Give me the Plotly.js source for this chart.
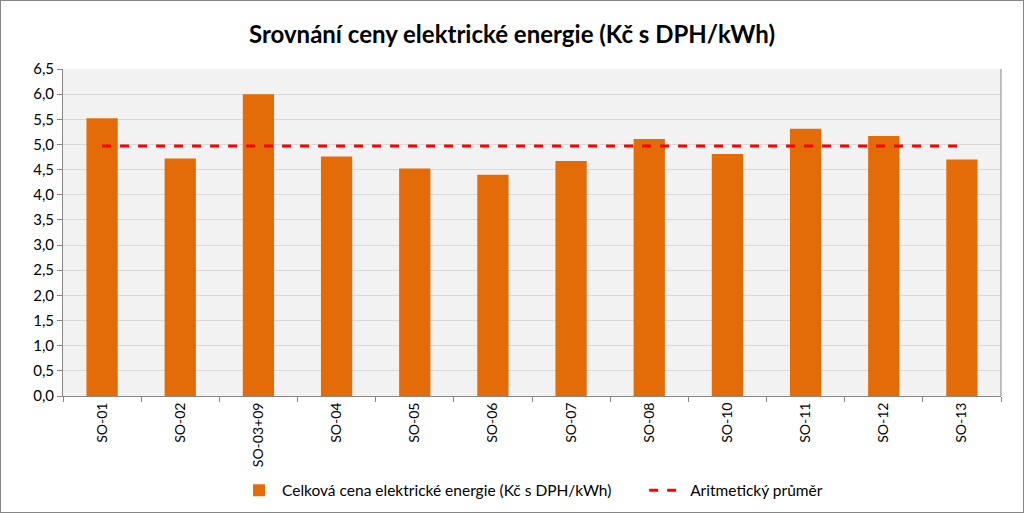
<!DOCTYPE html>
<html>
<head>
<meta charset="utf-8">
<script src="https://cdn.plot.ly/plotly-3.0.1.min.js"></script>
<style>
html,body{margin:0;padding:0;background:#fff;}
#chart{width:1024px;height:513px;box-sizing:border-box;border:1px solid #868686;}
</style>
</head>
<body>
<div id="chart"></div>
<script>
const categories = ["SO-01","SO-02","SO-03+09","SO-04","SO-05","SO-06","SO-07","SO-08","SO-10","SO-11","SO-12","SO-13"];
const priceValues = [5.52,4.72,6.00,4.76,4.52,4.40,4.67,5.11,4.81,5.31,5.17,4.70];
const averageValues = [4.97,4.97,4.97,4.97,4.97,4.97,4.97,4.97,4.97,4.97,4.97,4.97];
const yTickVals = [0,0.5,1,1.5,2,2.5,3,3.5,4,4.5,5,5.5,6,6.5];
const yTickText = ["0,0","0,5","1,0","1,5","2,0","2,5","3,0","3,5","4,0","4,5","5,0","5,5","6,0","6,5"];
const seriesNames = ["Celková cena elektrické energie (Kč s DPH/kWh)","Aritmetický průměr"];
const chartTitle = "Srovnání ceny elektrické energie (Kč s DPH/kWh)";

const font = "Lato, 'Open Sans', sans-serif";
const pad = "\u00a0\u00a0\u00a0\u00a0\u00a0\u00a0\u00a0";

const traces = [
  {
    type: "bar",
    x: categories,
    y: priceValues,
    name: seriesNames[0] + pad,
    marker: {color: "#e36c09"},
    hoverinfo: "x+y"
  },
  {
    type: "scatter",
    mode: "lines",
    x: categories,
    y: averageValues,
    name: seriesNames[1],
    line: {color: "#ff0000", width: 3, dash: "dash"}
  }
];

const layout = {
  width: 1022,
  height: 511,
  margin: {l: 62, r: 22, t: 68, b: 116},
  paper_bgcolor: "#ffffff",
  plot_bgcolor: "#f2f2f2",
  title: {
    text: "<b>" + chartTitle + "</b>",
    font: {family: font, size: 24, color: "#000000"},
    x: 0.5, xanchor: "center",
    y: 0.935, yanchor: "middle"
  },
  bargap: 0.6,
  showlegend: true,
  legend: {
    orientation: "h",
    xref: "paper",
    yref: "container",
    x: 0.5, xanchor: "center",
    y: 0.075, yanchor: "top",
    bgcolor: "rgba(0,0,0,0)",
    font: {family: font, size: 15.5, color: "#000"},
    traceorder: "normal",
    itemwidth: 36
  },
  xaxis: {
    type: "category",
    tickangle: -90,
    tickfont: {family: font, size: 14, color: "#000"},
    ticks: "outside",
    tickson: "boundaries",
    ticklen: 5,
    tickcolor: "#868686",
    showline: true,
    linecolor: "#868686",
    linewidth: 1,
    showgrid: false,
    mirror: false,
    automargin: false
  },
  yaxis: {
    range: [0, 6.5],
    tickvals: yTickVals,
    ticktext: yTickText,
    tickfont: {family: font, size: 15, color: "#000"},
    ticks: "outside",
    ticklen: 5,
    tickcolor: "#868686",
    showline: true,
    linecolor: "#868686",
    linewidth: 1,
    showgrid: true,
    gridcolor: "#d9d9d9",
    gridwidth: 1,
    zeroline: false,
    mirror: false
  },
  shapes: [
    {type: "line", xref: "paper", yref: "paper", x0: 1, x1: 1, y0: 0, y1: 1, line: {color: "#868686", width: 1}}
  ]
};

Plotly.newPlot("chart", traces, layout, {displayModeBar: false, staticPlot: true});
</script>
</body>
</html>
